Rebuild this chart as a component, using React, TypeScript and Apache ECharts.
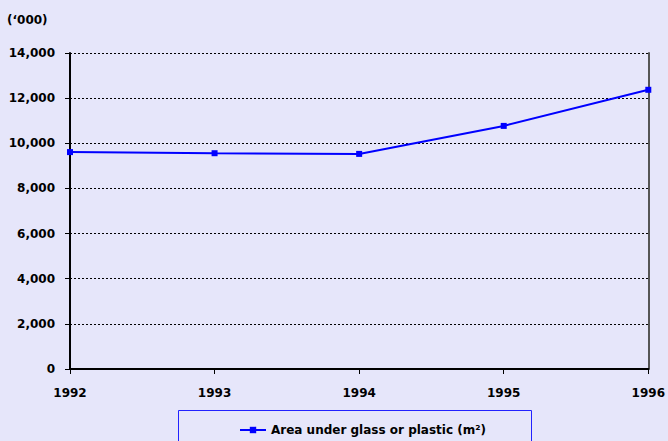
import React, { useEffect, useRef } from "react";
import * as echarts from "echarts";

const years = ["1992", "1993", "1994", "1995", "1996"];
const areaValues = [9610, 9560, 9530, 10770, 12370];
const seriesName = "Area under glass or plastic (m²)";
const unitLabel = "(‘000)";
const yMin = 0;
const yMax = 14000;
const yInterval = 2000;

const FONT = "DejaVu Sans";

export default function App() {
  const ref = useRef<HTMLDivElement>(null);
  useEffect(() => {
    if (!ref.current) return;
    const chart = echarts.init(ref.current, undefined, { renderer: "svg" });
    chart.setOption({
      animation: false,
      backgroundColor: "#E6E6FA",
      title: {
        text: unitLabel,
        left: 2,
        top: 9,
        textStyle: { fontFamily: FONT, fontSize: 12, fontWeight: "bold", color: "#000" },
      },
      grid: { left: 70, right: 16, top: 53, bottom: 72, containLabel: false },
      xAxis: {
        type: "category",
        data: years,
        boundaryGap: false,
        axisLine: { lineStyle: { color: "#000", width: 2 } },
        axisTick: { show: true, length: 5, inside: false, lineStyle: { color: "#000", width: 1 } },
        axisLabel: { margin: 18, fontFamily: FONT, fontSize: 12, fontWeight: "bold", color: "#000" },
        splitLine: { show: false },
      },
      yAxis: [
        {
          type: "value",
          min: yMin,
          max: yMax,
          interval: yInterval,
          axisLine: { show: true, lineStyle: { color: "#000", width: 2 } },
          axisTick: { show: true, length: 5, lineStyle: { color: "#000", width: 1 } },
          axisLabel: {
            margin: 15,
            fontFamily: FONT,
            fontSize: 12,
            fontWeight: "bold",
            color: "#000",
            formatter: (v: number) => v.toLocaleString("en-US"),
          },
          splitLine: { show: true, lineStyle: { color: "#000", type: [2, 2], width: 1 } },
        },
        {
          type: "value",
          position: "right",
          min: yMin,
          max: yMax,
          interval: yInterval,
          axisLine: { show: true, lineStyle: { color: "#555", width: 2 } },
          axisTick: { show: false },
          axisLabel: { show: false },
          splitLine: { show: false },
        },
      ],
      legend: {
        left: 234,
        top: 419,
        itemWidth: 26,
        itemHeight: 8,
        itemGap: 4,
        data: [seriesName],
        textStyle: { fontFamily: FONT, fontSize: 12, fontWeight: "bold", color: "#000" },
      },
      graphic: [
        {
          type: "rect",
          shape: { x: 178.5, y: 410.5, width: 353, height: 40 },
          style: { fill: "none", stroke: "#2222FF", lineWidth: 1 },
          silent: true,
        },
      ],
      series: [
        {
          name: seriesName,
          type: "line",
          data: areaValues,
          yAxisIndex: 0,
          symbol: "rect",
          symbolSize: 6,
          lineStyle: { color: "#0000FF", width: 2 },
          itemStyle: { color: "#0000FF" },
        },
      ],
    });
    return () => chart.dispose();
  }, []);
  return (
    <div
      ref={ref}
      style={{ position: "absolute", left: 0, top: 0, width: 668, height: 441 }}
    />
  );
}
